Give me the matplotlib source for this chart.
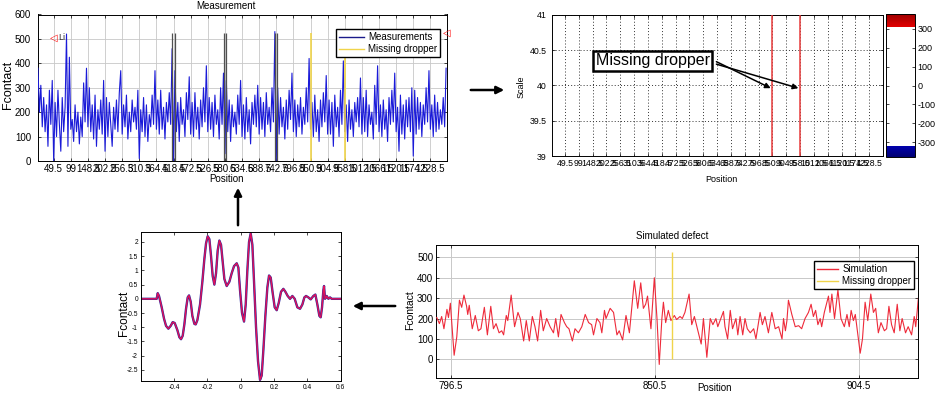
import numpy as np
import matplotlib as mpl
import matplotlib.pyplot as plt
from matplotlib.lines import Line2D
from matplotlib.colors import ListedColormap, Normalize
from matplotlib.patches import FancyArrowPatch

plt.rcParams['font.family'] = ['Liberation Sans', 'DejaVu Sans']
plt.rcParams['axes.unicode_minus'] = False
plt.rcParams['xtick.direction'] = 'in'
plt.rcParams['ytick.direction'] = 'in'
plt.rcParams['xtick.major.size'] = 2.5
plt.rcParams['ytick.major.size'] = 2.5
plt.rcParams['xtick.major.width'] = 0.5
plt.rcParams['ytick.major.width'] = 0.5
plt.rcParams['axes.linewidth'] = 0.7

W, H = 943, 394


def box(l, t, r, b):
    return [l / W, 1 - b / H, (r - l) / W, (b - t) / H]


def ftext(x, y, s, **kw):
    fig.text(x / W, 1 - y / H, s, ha='center', va='center', **kw)


# ---- data -------------------------------------------------------------
pos_labels = ['49.5', '99', '148.5', '202.5', '256.5', '310.5', '364.5', '418.5',
              '472.5', '526.5', '580.5', '634.5', '688.5', '742.5', '796.5', '850.5',
              '904.5', '958.5', '1012.5', '1066.5', '1120.5', '1174.5', '1228.5']

# measured contact force, 12 samples per dropper span (last sample of a row sits on the dropper)
meas = [380, 200, 310, 140, 260, 120, 230, 60, 290, 150, 330, 0,
        240, 100, 290, 150, 40, 260, 120, 220, 520, 60, 425, 130,
        170, 80, 230, 120, 200, 70, 180, 100, 320, 160, 380, 140,
        300, 120, 230, 90, 270, 60, 210, 130, 250, 110, 330, 40,
        260, 100, 240, 150, 60, 220, 130, 250, 120, 280, 370, 110,
        230, 140, 270, 90, 200, 120, 250, 160, 220, 130, 290, 10,
        210, 120, 260, 100, 230, 80, 190, 140, 270, 150, 370, 130,
        250, 110, 290, 130, 220, 90, 240, 160, 280, 150, 460, 0,
        370, 120, 240, 80, 260, 150, 210, 100, 280, 170, 345, 110,
        240, 100, 280, 130, 220, 90, 250, 140, 300, 160, 390, 120,
        260, 130, 240, 100, 270, 150, 210, 90, 300, 150, 360, 30,
        330, 120, 250, 80, 230, 140, 200, 110, 270, 150, 330, 100,
        230, 90, 260, 120, 210, 70, 240, 150, 270, 140, 310, 110,
        260, 130, 240, 100, 280, 150, 220, 120, 300, 160, 530, 0,
        300, 110, 260, 140, 220, 90, 250, 130, 290, 170, 360, 120,
        250, 100, 230, 140, 260, 110, 220, 150, 300, 160, 420, 130,
        240, 100, 270, 120, 210, 80, 250, 140, 280, 160, 350, 110,
        250, 110, 240, 60, 270, 140, 220, 100, 290, 150, 410, 120,
        230, 80, 250, 130, 210, 100, 240, 160, 260, 140, 340, 110,
        260, 120, 290, 100, 230, 150, 200, 90, 310, 150, 390, 120,
        230, 100, 250, 130, 210, 80, 260, 150, 290, 160, 360, 120,
        220, 40, 270, 110, 230, 90, 250, 140, 260, 120, 300, 20,
        290, 110, 260, 130, 240, 100, 230, 150, 300, 160, 370, 130,
        230, 100, 270, 120, 240, 130, 210, 150, 260, 140, 380]
dark_droppers = [7, 10, 13]
missing_droppers = [15, 17]
marker_height = 525

scale_ticks = [39, 39.5, 40, 40.5, 41]
cbar_ticks = [-300, -200, -100, 0, 100, 200, 300]

wave_x = [-0.6, -0.504, -0.498, -0.49, -0.474, -0.46, -0.448, -0.434, -0.42, -0.408,
          -0.396, -0.38, -0.368, -0.358, -0.348, -0.338, -0.328, -0.318, -0.31, -0.30,
          -0.29, -0.278, -0.27, -0.26, -0.244, -0.23, -0.218, -0.208, -0.198, -0.188,
          -0.178, -0.168, -0.158, -0.148, -0.138, -0.128, -0.118, -0.108, -0.098, -0.084,
          -0.068, -0.054, -0.04, -0.024, -0.014, -0.004, 0.008, 0.02, 0.03, 0.04,
          0.05, 0.06, 0.07, 0.08, 0.092, 0.104, 0.116, 0.126, 0.136, 0.148,
          0.16, 0.17, 0.18, 0.192, 0.204, 0.216, 0.228, 0.242, 0.256, 0.268,
          0.282, 0.296, 0.31, 0.324, 0.34, 0.356, 0.37, 0.382, 0.392, 0.406,
          0.42, 0.436, 0.448, 0.46, 0.472, 0.48, 0.488, 0.496, 0.5, 0.506,
          0.516, 0.526, 0.536, 0.546, 0.6]
wave_y = [0, 0, 0.2, 0.1, -0.3, -0.7, -0.95, -1.05, -0.95, -0.82,
          -0.85, -1.1, -1.35, -1.42, -1.3, -0.9, -0.35, 0.05, 0.12, -0.1,
          -0.6, -0.88, -0.9, -0.75, -0.2, 0.6, 1.4, 1.95, 2.2, 2.1,
          1.5, 0.8, 0.5, 0.9, 1.7, 2.05, 1.9, 1.3, 0.7, 0.45,
          0.6, 0.9, 1.15, 1.25, 1.1, 0.3, -0.5, -0.8, -0.2, 1.0,
          2.0, 2.3, 1.9, 0.6, -1.0, -2.2, -2.85, -2.7, -1.8, -0.6,
          0.4, 0.82, 0.75, 0.2, -0.3, -0.4, -0.15, 0.25, 0.35, 0.25,
          0.1, 0.0, 0.1, 0.0, -0.3, -0.35, -0.2, 0.05, 0.1, 0.05,
          -0.02, 0.1, 0.15, -0.2, -0.6, -0.65, -0.3, 0.3, 0.45, 0.0,
          0.1, 0.0, 0.05, 0.0, 0.0]
wave_ticks = [-0.4, -0.2, 0, 0.2, 0.4, 0.6]
wave_yticks = [2, 1.5, 1, 0.5, 0, -0.5, -1, -1.5, -2, -2.5]

sim_x = [792.7, 793.4, 794.0, 794.6, 795.4, 795.8, 796.3, 796.8, 797.3, 798.0,
         798.7, 799.3, 799.9, 800.6, 800.9, 801.3, 802.1, 802.9, 803.7, 804.4,
         805.3, 806.1, 807.0, 807.7, 808.4, 809.2, 809.9, 810.4, 811.1, 811.5,
         812.4, 813.3, 814.2, 814.8, 815.7, 816.4, 817.2, 818.0, 818.7, 819.4,
         820.2, 820.9, 821.8, 822.7, 823.6, 824.2, 824.9, 825.6, 826.5, 827.1,
         827.7, 828.6, 829.3, 830.2, 831.1, 832.0, 832.9, 833.7, 834.2, 835.1,
         835.9, 836.4, 837.1, 837.5, 838.6, 839.5, 840.4, 841.0, 841.9, 842.8,
         843.7, 845.0, 845.9, 846.7, 847.4, 848.0, 848.5, 849.4, 850.3, 851.0,
         851.6, 852.3, 852.7, 853.3, 854.0, 854.7, 855.6, 856.2, 857.1, 857.7,
         858.4, 859.5, 860.2, 860.9, 862.7, 863.3, 864.2, 865.1, 865.8, 866.6,
         867.1, 868.6, 869.0, 869.7, 870.4, 871.0, 871.9, 872.4, 873.0, 873.7,
         874.3, 874.9, 875.7, 876.6, 877.2, 878.3, 878.9, 879.6, 880.5, 881.4,
         882.3, 883.2, 884.1, 884.5, 885.0, 885.4, 885.8, 886.7, 887.6, 888.5,
         889.3, 890.2, 891.1, 891.8, 892.4, 893.0, 893.6, 894.2, 894.6, 895.3,
         896.4, 896.8, 897.3, 898.0, 898.9, 899.7, 900.6, 901.3, 901.9, 902.4,
         903.0, 903.5, 904.8, 905.4, 906.1, 906.8, 907.6, 908.3, 908.9, 909.6,
         910.3, 911.2, 911.8, 912.4, 913.1, 913.8, 914.6, 915.3, 915.9, 916.8,
         917.5, 918.4, 919.1, 919.5, 920.2]
sim_y = [205, 175, 210, 150, 245, 205, 275, 150, 20, 110,
         290, 255, 315, 260, 220, 265, 150, 215, 140, 150,
         255, 120, 260, 150, 175, 130, 140, 120, 215, 190,
         315, 160, 230, 200, 90, 190, 90, 210, 160, 90,
         240, 140, 200, 160, 130, 200, 110, 220, 180, 160,
         150, 90, 150, 130, 160, 220, 180, 170, 120, 200,
         180, 130, 240, 200, 250, 230, 120, 140, 95, 215,
         130, 385, 250, 375, 250, 270, 310, 150, 400, 200,
         -25, 200, 280, 180, 240, 190, 215, 195, 210, 200,
         230, 320, 170, 210, 75, 200, 10, 200, 170, 200,
         160, 235, 160, 100, 240, 150, 200, 120, 210, 120,
         200, 150, 130, 150, 100, 230, 170, 210, 130, 230,
         150, 160, 100, 200, 140, 190, 290, 220, 160, 165,
         150, 200, 230, 270, 210, 240, 170, 200, 160, 230,
         310, 230, 320, 200, 340, 200, 160, 220, 160, 240,
         190, 220, 30, 100, 280, 190, 320, 230, 250, 130,
         180, 140, 150, 260, 170, 130, 270, 140, 200, 130,
         160, 120, 210, 160, 300]
sim_ticks = [796.5, 850.5, 904.5]
sim_missing = 855.0

blue = '#1a1ad8'
yellow = '#f0d44a'
gridc = '#c8c8c8'

fig = plt.figure(figsize=(W / 100, H / 100), dpi=100)

# ---- Measurement --------------------------------------------------------
ax1 = fig.add_axes(box(38, 14.5, 447, 161))
u = (np.arange(len(meas)) - 11) / 12
ax1.plot(u, meas, color=blue, lw=0.8, zorder=3)
for k in dark_droppers:
    ax1.vlines([k - 0.07, k + 0.07], 0, marker_height, color='#505050', lw=0.9, zorder=4)
ax1.vlines(missing_droppers, 0, marker_height, color=yellow, lw=1.2, zorder=4)
ax1.set_xlim(-0.915, 22.97)
ax1.set_ylim(0, 600)
ax1.set_xticks(range(len(pos_labels)))
ax1.set_xticklabels(pos_labels, fontsize=6.6)
ax1.set_yticks(range(0, 601, 100))
ax1.tick_params(labelsize=7, top=True, right=True, pad=2)
ax1.tick_params(axis='y', pad=5)
ax1.grid(True, color=gridc, lw=0.6)
ax1.set_axisbelow(True)
ax1.legend([Line2D([], [], color='#1a1a8a', lw=1), Line2D([], [], color=yellow, lw=1)],
           ['Measurements', 'Missing dropper'], loc='upper right',
           bbox_to_anchor=(0.983, 0.901), fontsize=7, frameon=True, fancybox=False,
           edgecolor='black', framealpha=1, borderpad=0.3, labelspacing=0.25,
           handlelength=2.6, handletextpad=0.4, borderaxespad=0)
ax1.text(0.0, 505, '\u25c1', color='red', fontsize=7, ha='center', va='center',
         family=['DejaVu Sans'])
ax1.text(0.45, 505, 'Li', color='#303030', fontsize=6.5, ha='center', va='center')
ax1.text(22.95, 525, '\u25c1', color='red', fontsize=7, ha='center', va='center',
         family=['DejaVu Sans'], clip_on=False)
ftext(226, 6, 'Measurement', fontsize=7)
ftext(226, 179, 'Position', fontsize=7)
ftext(8, 85, 'Fcontact', fontsize=9, rotation=90)

# ---- Scale view ---------------------------------------------------------
ax2 = fig.add_axes(box(552, 14.7, 883, 156))
ax2.set_xlim(-0.94, 23.0)
ax2.set_ylim(39, 41)
ax2.set_xticks(range(len(pos_labels)))
ax2.set_xticklabels(pos_labels, fontsize=5.3)
ax2.set_yticks(scale_ticks)
ax2.set_yticklabels(['39', '39.5', '40', '40.5', '41'])
ax2.tick_params(labelsize=6.3, top=True, right=True, pad=2)
ax2.tick_params(axis='y', pad=4)
ax2.grid(True, color='#333333', lw=0.7, linestyle=(0, (1, 2.2)))
ax2.vlines(missing_droppers, 39, 41, color='#e83c3c', lw=1.1, zorder=3)
ax2.text(6.34, 40.345, 'Missing dropper', fontsize=11.5, ha='center', va='center',
         bbox=dict(boxstyle='square,pad=0.14', fc='white', ec='black', lw=1.8), zorder=5)
for m, ys in zip(missing_droppers, [40.335, 40.30]):
    ax2.annotate('', xy=(m - 0.12, 39.96), xytext=(10.95, ys),
                 arrowprops=dict(arrowstyle='-|>', color='black', lw=1.1,
                                 mutation_scale=8, shrinkA=0, shrinkB=0), zorder=6)
ftext(521, 87, 'Scale', fontsize=6.5, rotation=90)
ftext(721, 179, 'Position', fontsize=6.5)

# colour bar
cax = fig.add_axes(box(886, 14, 915, 157))
vmin, vmax = -378, 378
n = 256
cols = np.ones((n, 4))
lev = np.linspace(vmin, vmax, n)
lo = lev < -320
hi = lev > 310
cols[lo, :3] = np.column_stack([np.zeros(lo.sum()), np.zeros(lo.sum()),
                                np.linspace(0.45, 0.68, lo.sum())])
cols[hi, :3] = np.column_stack([np.linspace(0.88, 0.62, hi.sum()), np.zeros(hi.sum()),
                                np.zeros(hi.sum())])
cb = mpl.colorbar.ColorbarBase(cax, cmap=ListedColormap(cols),
                               norm=Normalize(vmin, vmax), ticks=cbar_ticks)
cb.outline.set_linewidth(0.7)
cax.yaxis.set_ticks_position('both')
cax.tick_params(labelsize=6.5, direction='in', length=2.5, pad=2, labelright=True, labelleft=False)

# ---- Wavelet --------------------------------------------------------------
ax3 = fig.add_axes(box(140.7, 232, 340.7, 381))
ax3.plot(wave_x, wave_y, color='#2a2a9c', lw=1.7)
ax3.plot(wave_x, wave_y, color='#e0105a', lw=1.0)
ax3.set_xlim(-0.6, 0.6)
ax3.set_ylim(-2.89, 2.35)
ax3.set_xticks(wave_ticks)
ax3.set_xticklabels(['-0.4', '-0.2', '0', '0.2', '0.4', '0.6'])
ax3.set_yticks(wave_yticks)
ax3.set_yticklabels(['2', '1.5', '1', '0.5', '0', '-0.5', '-1', '-1.5', '-2', '-2.5'])
ax3.tick_params(labelsize=4.8, top=True, right=True, pad=2, length=2)
ftext(124, 313, 'Fcontact', fontsize=8.5, rotation=90)

# ---- Simulated defect --------------------------------------------------------
ax4 = fig.add_axes(box(436, 244.7, 918, 378.3))
ax4.plot(sim_x, sim_y, color='#ee2a3a', lw=0.8, zorder=3)
ax4.vlines(sim_missing, 0, marker_height, color=yellow, lw=1.0, zorder=4)
ax4.set_xlim(792.5, 920.1)
ax4.set_ylim(-93, 562)
ax4.set_xticks(sim_ticks)
ax4.set_xticklabels(['796.5', '850.5', '904.5'])
ax4.set_yticks(range(0, 501, 100))
ax4.tick_params(labelsize=7, top=True, right=True, pad=2)
ax4.tick_params(axis='y', pad=2)
ax4.grid(True, color=gridc, lw=0.7)
ax4.set_axisbelow(True)
ax4.legend([Line2D([], [], color='#ee2a3a', lw=1), Line2D([], [], color=yellow, lw=1)],
           ['Simulation', 'Missing dropper'], loc='upper right',
           bbox_to_anchor=(0.992, 0.878), fontsize=7, frameon=True, fancybox=False,
           edgecolor='black', framealpha=1, borderpad=0.3, labelspacing=0.25,
           handlelength=2.2, handletextpad=0.4, borderaxespad=0)
ftext(672, 236, 'Simulated defect', fontsize=7)
ftext(714, 388, 'Position', fontsize=7)
ftext(410, 310, 'Fcontact', fontsize=7.5, rotation=90)

# ---- flow arrows --------------------------------------------------------------
for (x0, y0), (x1, y1) in [((468, 90), (507, 90)),
                           ((238, 228), (238, 185)),
                           ((398, 306), (350, 306))]:
    fig.add_artist(FancyArrowPatch((x0 / W, 1 - y0 / H), (x1 / W, 1 - y1 / H),
                                   transform=fig.transFigure, arrowstyle='-|>',
                                   mutation_scale=11, lw=1.8, color='black'))

fig.savefig('out.png', dpi=100)
